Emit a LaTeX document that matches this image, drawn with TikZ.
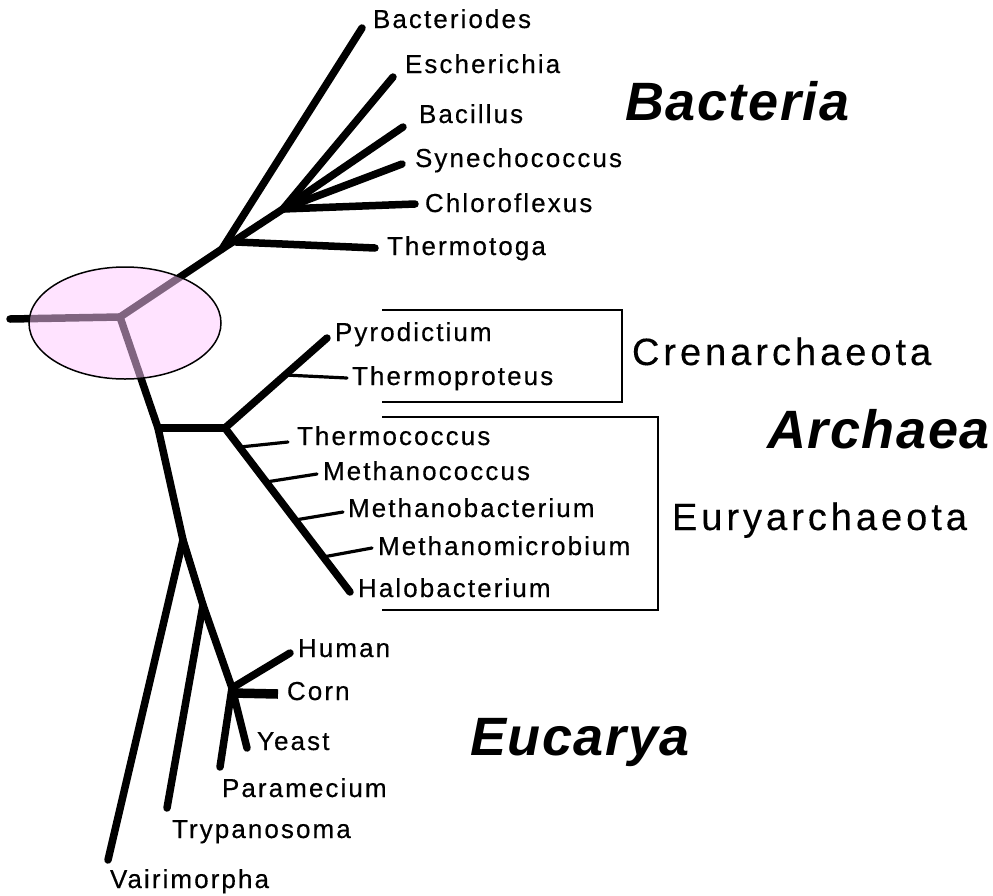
\documentclass[tikz,border=0pt]{standalone}
\usepackage{fontspec}
\usetikzlibrary{shapes.geometric}
\newfontfamily\labfont[LetterSpace=8,FakeBold=0.4]{Liberation Sans}
\newfontfamily\cladefont[LetterSpace=10.5,FakeBold=0.3]{Liberation Sans}
\newfontfamily\titfont[LetterSpace=3]{Liberation Sans}
\definecolor{rootpink}{RGB}{255,200,255}
\begin{document}
\begin{tikzpicture}[x=1pt,y=-1pt,
  thickbr/.style={line width=7.5pt,line cap=round,line join=round},
  thinbr/.style={line width=3.2pt,line cap=round},
  cornbr/.style={line width=9.5pt},
  bracketline/.style={line width=2pt},
  taxon/.style={anchor=base west,inner sep=0pt,outer sep=0pt,font=\labfont\fontsize{26}{30}\selectfont},
  cladelab/.style={anchor=base west,inner sep=0pt,outer sep=0pt,font=\cladefont\fontsize{38}{44}\selectfont},
  domainlab/.style={anchor=base west,inner sep=0pt,outer sep=0pt,font=\titfont\bfseries\itshape\fontsize{54}{60}\selectfont}]
\useasboundingbox (0,0) rectangle (993,895);

% --- coordinates of the tree ---
\coordinate (stub) at (10,319);
\coordinate (R) at (120,317);
\coordinate (A) at (222,249);
\coordinate (Tt) at (236,242);
\coordinate (B) at (283,209);
\coordinate (eBac) at (362,28);
\coordinate (eEsc) at (393,77);
\coordinate (eBacil) at (403,127);
\coordinate (eSyn) at (402,164);
\coordinate (eChl) at (415,204);
\coordinate (eThe) at (375,248);

\coordinate (C) at (158,428);
\coordinate (G) at (225,428);
\coordinate (ePyr) at (327,338);
\coordinate (sThp) at (285,375);
\coordinate (eThp) at (347,378);
\coordinate (eHal) at (350,592);
\coordinate (sTc) at (240,447);
\coordinate (eTc) at (288,442);
\coordinate (sMc) at (266,482);
\coordinate (eMc) at (317,474);
\coordinate (sMb) at (295,520);
\coordinate (eMb) at (343,512);
\coordinate (sMm) at (323,557);
\coordinate (eMm) at (372,548);

\coordinate (D) at (183,540);
\coordinate (E) at (203,605);
\coordinate (F) at (232,688);
\coordinate (eVai) at (108,860);
\coordinate (eTry) at (167,808);
\coordinate (eHum) at (290,653);
\coordinate (sCorn) at (232,693);
\coordinate (eCorn) at (278,694);
\coordinate (eYea) at (247,748);
\coordinate (ePar) at (220,767);

% --- branches ---
\draw[thickbr] (stub) -- (R);
\draw[thickbr] (R) -- (A) -- (B);
\draw[thickbr] (A) -- (eBac);
\draw[thickbr] (Tt) -- (eThe);
\draw[thickbr] (B) -- (eEsc);
\draw[thickbr] (B) -- (eBacil);
\draw[thickbr] (B) -- (eSyn);
\draw[thickbr] (B) -- (eChl);

\draw[thickbr] (R) -- (C) -- (D) -- (E) -- (F);
\draw[thickbr] (C) -- (G);
\draw[thickbr] (G) -- (ePyr);
\draw[thickbr] (G) -- (eHal);
\draw[thinbr] (sThp) -- (eThp);
\draw[thinbr] (sTc) -- (eTc);
\draw[thinbr] (sMc) -- (eMc);
\draw[thinbr] (sMb) -- (eMb);
\draw[thinbr] (sMm) -- (eMm);

\draw[thickbr] (D) -- (eVai);
\draw[thickbr] (E) -- (eTry);
\draw[thickbr] (F) -- (eHum);
\draw[cornbr] (sCorn) -- (eCorn);
\draw[thickbr] (F) -- (eYea);
\draw[thickbr] (F) -- (ePar);

% --- root ellipse ---
\node[draw=black,line width=1.5pt,fill=rootpink,fill opacity=0.5,draw opacity=1,
      ellipse,minimum width=192pt,minimum height=112pt,inner sep=0pt] (rootell) at (125,323) {};

% --- brackets ---
\coordinate (c1) at (382,310); \coordinate (c2) at (622,310);
\coordinate (c3) at (622,402); \coordinate (c4) at (382,402);
\draw[bracketline] (c1) -- (c2) -- (c3) -- (c4);
\coordinate (u1) at (382,417); \coordinate (u2) at (658,417);
\coordinate (u3) at (658,610); \coordinate (u4) at (382,610);
\draw[bracketline] (u1) -- (u2) -- (u3) -- (u4);

% --- taxon labels ---
\node[taxon] (lBac) at (373,28) {Bacteriodes};
\node[taxon] (lEsc) at (405,73) {Escherichia};
\node[taxon] (lBacil) at (419,123) {Bacillus};
\node[taxon] (lSyn) at (415,167) {Synechococcus};
\node[taxon] (lChl) at (425,212) {Chloroflexus};
\node[taxon] (lThe) at (387,255) {Thermotoga};

\node[taxon] (lPyr) at (335,341) {Pyrodictium};
\node[taxon] (lThp) at (352,385) {Thermoproteus};
\node[taxon] (lTc) at (297,445) {Thermococcus};
\node[taxon] (lMc) at (323,480) {Methanococcus};
\node[taxon] (lMb) at (348,517) {Methanobacterium};
\node[taxon] (lMm) at (378,555) {Methanomicrobium};
\node[taxon] (lHal) at (358,597) {Halobacterium};

\node[taxon] (lHum) at (298,657) {Human};
\node[taxon] (lCorn) at (287,700) {Corn};
\node[taxon] (lYea) at (257,750) {Yeast};
\node[taxon] (lPar) at (222,797) {Paramecium};
\node[taxon] (lTry) at (172,838) {Trypanosoma};
\node[taxon] (lVai) at (110,888) {Vairimorpha};

% --- clade and domain labels ---
\node[cladelab] (lCren) at (632,365) {Crenarchaeota};
\node[cladelab] (lEury) at (672,530) {Euryarchaeota};
\node[domainlab] (dBact) at (625,120) {Bacteria};
\node[domainlab] (dArch) at (767,448) {Archaea};
\node[domainlab] (dEuc) at (470,755) {Eucarya};
\end{tikzpicture}
\end{document}
